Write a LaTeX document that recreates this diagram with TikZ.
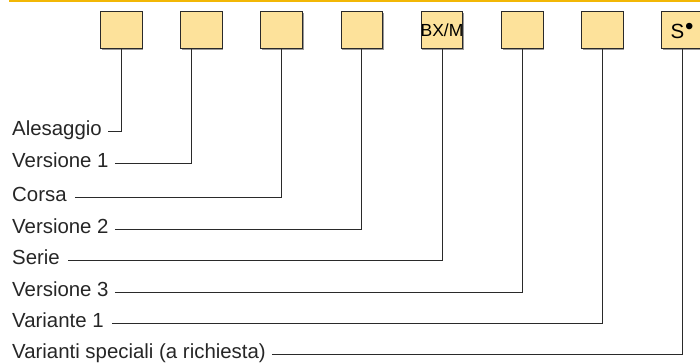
\documentclass[tikz,border=0pt]{standalone}
\usepackage{fontspec}
\setmainfont{Liberation Sans}
\usetikzlibrary{positioning,shadows}
\definecolor{codeyellow}{HTML}{FDE29B}
\definecolor{rulegold}{HTML}{F2B705}
\definecolor{leadgray}{HTML}{2A2A2A}
\tikzset{
  codebox/.style={draw=leadgray,fill=codeyellow,line width=0.9pt,
    minimum width=41.6pt,minimum height=36.6pt,inner sep=0pt,
    drop shadow={shadow xshift=1.2pt,shadow yshift=-1.2pt,fill=black!40,opacity=1}},
  boxtext/.style={inner sep=0pt,font=\fontsize{17.5}{20}\selectfont},
  lbl/.style={anchor=west,inner sep=0pt,text height=9.5pt,text depth=0pt,
    font=\fontsize{20.4}{24}\selectfont,text=black!85},
  lead/.style={draw=leadgray,line width=0.8pt},
}

\begin{document}
\begin{tikzpicture}[x=1pt,y=-1pt]
\useasboundingbox (0,0) rectangle (700,362);

%top rule
\draw[rulegold,line width=1.5pt](9,0.75)--(700,0.75);

%code boxes
\foreach \i in {1,...,8}{
\node[codebox] (b\i) at ({121.2+80.2*(\i-1)},30) {};
}
\node[boxtext] (t5) at (b5) {BX/M};
\node[boxtext,font=\fontsize{20.5}{22}\selectfont] (t8) at ([xshift=-0.5pt,yshift=-1pt]b8) {S\kern1pt\raisebox{0.22em}{\fontsize{24}{24}\selectfont\textbullet}};

%labels
\node[lbl] (l1) at (12,131) {Alesaggio};
\node[lbl] (l2) at (12,163) {Versione 1};
\node[lbl] (l3) at (12,197) {Corsa};
\node[lbl] (l4) at (12,229) {Versione 2};
\node[lbl] (l5) at (12,260) {Serie};
\node[lbl] (l6) at (12,292) {Versione 3};
\node[lbl] (l7) at (12,323) {Variante 1};
\node[lbl] (l8) at (12,354) {Varianti speciali (a richiesta)};

%leaders
\draw[lead]([xshift=6pt]l1.east)-|(b1.south);
\draw[lead]([xshift=6pt]l2.east)-|([xshift=-9.7pt]b2.south);
\draw[lead]([xshift=8pt]l3.east)-|(b3.south);
\draw[lead]([xshift=6pt]l4.east)-|(b4.south);
\draw[lead]([xshift=8pt]l5.east)-|(b5.south);
\draw[lead]([xshift=6pt]l6.east)-|(b6.south);
\draw[lead]([xshift=8pt]l7.east)-|(b7.south);
\draw[lead]([xshift=6pt]l8.east)-|(b8.south);

\end{tikzpicture}
\end{document}
